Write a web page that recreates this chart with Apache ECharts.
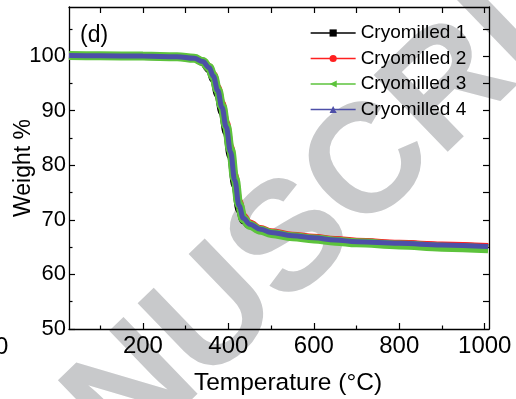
<!DOCTYPE html>
<html>
<head>
<meta charset="utf-8">
<script src="https://cdn.jsdelivr.net/npm/echarts@6/dist/echarts.min.js"></script>
<style>
  html, body { margin: 0; padding: 0; background: #fff; }
  #chart { width: 516px; height: 399px; }
</style>
</head>
<body>
<div id="chart"></div>
<script>
// temperature (°C) and weight (%)
const temps = [27, 100, 200, 280, 320, 340, 355, 365, 375, 385, 395, 405, 415, 425, 435, 450, 475, 500, 550, 600, 650, 700, 800, 900, 1008]
const cryo1 = [100.1, 100.0, 99.95, 99.85, 99.55, 98.8, 97.5, 95.7, 92.9, 89.7, 86.0, 81.6, 76.3, 71.8, 69.8, 68.9, 68.2, 67.6, 67.0, 66.6, 66.3, 66.0, 65.6, 65.3, 65.0]
const cryo2 = [100.1, 100.05, 100.0, 99.9, 99.65, 99.1, 98.1, 96.7, 94.3, 91.4, 87.9, 83.5, 78.2, 73.4, 70.7, 69.4, 68.4, 67.8, 67.2, 66.8, 66.4, 66.1, 65.7, 65.4, 65.1]
const cryo3 = [100.1, 100.05, 100.0, 99.9, 99.6, 99.0, 97.9, 96.3, 93.8, 90.8, 87.2, 82.8, 77.6, 72.8, 70.2, 69.0, 68.1, 67.5, 66.9, 66.5, 66.1, 65.8, 65.4, 65.0, 64.7]
const cryo4 = [100.1, 100.05, 100.0, 99.9, 99.6, 99.0, 97.9, 96.3, 93.7, 90.6, 87.0, 82.5, 77.2, 72.6, 70.3, 69.2, 68.3, 67.7, 67.1, 66.7, 66.3, 66.0, 65.7, 65.4, 65.1]

const seriesNames = ['Cryomilled 1', 'Cryomilled 2', 'Cryomilled 3', 'Cryomilled 4']
const xMajor = [200, 400, 600, 800, 1000]
const xMinor = [100, 300, 500, 700, 900]
const xAll = [100, 200, 300, 400, 500, 600, 700, 800, 900, 1000]
const yMajor = [50, 60, 70, 80, 90, 100]
const yMinor = [55, 65, 75, 85, 95, 105]
const yAll = [55, 60, 65, 70, 75, 80, 85, 90, 95, 100, 105]

const FONT = 'Liberation Sans, Arial, sans-serif'
const pair = (ys) => temps.map((t, i) => [t, ys[i]])

const chart = echarts.init(document.getElementById('chart'))

const axisLine = { show: true, lineStyle: { color: '#000', width: 1.3 } }
const xBase = { type: 'value', min: 27, max: 1010, splitLine: { show: false } }
const yBase = { type: 'value', min: 50, max: 109, splitLine: { show: false } }

function line(name, data, color, width, symbol, rotate, size) {
  return {
    name,
    type: 'line',
    data: pair(data),
    smooth: 0.4,
    smoothMonotone: 'x',
    showSymbol: false,
    symbol,
    symbolRotate: rotate,
    symbolSize: size,
    itemStyle: { color },
    lineStyle: { color, width },
    emphasis: { disabled: true },
  }
}

chart.setOption({
  animation: false,
  textStyle: { fontFamily: FONT },
  grid: { left: 69, right: 27, top: 7, bottom: 70, containLabel: false, outerBoundsMode: 'none' },
  legend: {
    orient: 'vertical',
    left: 310,
    top: 23,
    padding: 0,
    itemWidth: 45,
    itemHeight: 9,
    itemGap: 5.5,
    lineStyle: { width: 1.3 },
    textStyle: { fontSize: 19, color: '#000', lineHeight: 20, fontFamily: FONT },
    data: seriesNames,
  },
  xAxis: [
    {
      ...xBase,
      position: 'bottom',
      axisLine,
      axisTick: { inside: true, length: 6, customValues: xMajor, lineStyle: { color: '#000', width: 1.2 } },
      axisLabel: { customValues: xMajor, margin: 5, fontSize: 24, color: '#000', fontFamily: FONT, formatter: (v) => String(v) },
      name: 'Temperature (°C)',
      nameLocation: 'middle',
      nameGap: 42,
      nameMoveOverlap: false,
      nameTextStyle: { fontSize: 24.5, color: '#000', padding: [0, 0, 0, 18], fontFamily: FONT },
    },
    {
      ...xBase,
      position: 'bottom',
      axisLine: { show: false },
      axisTick: { inside: true, length: 3.5, customValues: xMinor, lineStyle: { color: '#000', width: 1.2 } },
      axisLabel: { show: false },
    },
    {
      ...xBase,
      position: 'top',
      axisLine,
      axisTick: { inside: true, length: 6, customValues: xAll, lineStyle: { color: '#000', width: 1.2 } },
      axisLabel: { show: false },
    },
  ],
  yAxis: [
    {
      ...yBase,
      position: 'left',
      axisLine,
      axisTick: { inside: true, length: 6, customValues: yMajor, lineStyle: { color: '#000', width: 1.2 } },
      axisLabel: { customValues: yMajor, margin: 3, fontSize: 22, color: '#000', fontFamily: FONT },
      name: 'Weight %',
      nameLocation: 'middle',
      nameGap: 34,
      nameMoveOverlap: false,
      nameTextStyle: { fontSize: 23, color: '#000', fontFamily: FONT },
    },
    {
      ...yBase,
      position: 'left',
      axisLine: { show: false },
      axisTick: { inside: true, length: 3.5, customValues: yMinor, lineStyle: { color: '#000', width: 1.2 } },
      axisLabel: { show: false },
    },
    {
      ...yBase,
      position: 'right',
      axisLine,
      axisTick: { inside: true, length: 6, customValues: yAll, lineStyle: { color: '#000', width: 1.2 } },
      axisLabel: { show: false },
    },
  ],
  graphic: [
    {
      type: 'text',
      z: -10,
      x: 293,
      y: 242,
      rotation: 44 * Math.PI / 180,
      style: {
        text: 'MANUSCRIPT',
        fill: '#c8c9cb',
        font: 'bold 155px ' + FONT,
        align: 'center',
        verticalAlign: 'middle',
      },
    },
    {
      type: 'text',
      left: 80,
      top: 24,
      style: { text: '(d)', fill: '#000', font: '23px ' + FONT },
    },
    {
      type: 'text',
      x: -5,
      y: 335,
      style: { text: '0', fill: '#000', font: '24px ' + FONT },
    },
  ],
  series: [
    line(seriesNames[0], cryo1, '#000000', 7, 'rect', 0, 6),
    line(seriesNames[1], cryo2, '#ff2020', 7, 'circle', 0, 6),
    line(seriesNames[2], cryo3, '#5dc33c', 9, 'triangle', 90, 7),
    line(seriesNames[3], cryo4, '#4d4fa8', 5, 'triangle', 0, 3),
  ],
})
</script>
</body>
</html>
